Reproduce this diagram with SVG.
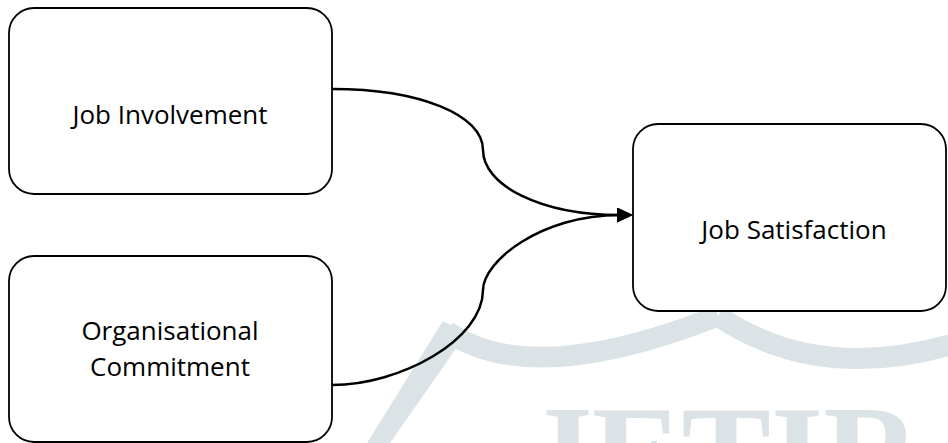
<svg xmlns="http://www.w3.org/2000/svg" width="948" height="443" viewBox="0 0 948 443">
  <style>
    .box { fill: #ffffff; stroke: #000000; stroke-width: 1.8; }
    .label { font-family: "Open Sans", "Noto Sans", "Liberation Sans", sans-serif; font-size: 26px; fill: #000000; text-anchor: middle; }
    .conn { fill: none; stroke: #000000; stroke-width: 2.5; }
    .wm { fill: none; stroke: #dce3e6; stroke-width: 21; }
    .wmfill { fill: #dce3e6; }
  </style>
  <defs>
    <marker id="arrow" markerUnits="userSpaceOnUse" markerWidth="16" markerHeight="15" refX="3" refY="7.5" orient="auto">
      <path d="M0,0 L16,7.5 L0,15 z" fill="#000000"/>
    </marker>
  </defs>

  <g id="watermark">
    <path class="wm" d="M447,331 Q530,390 718,316"/>
    <path class="wm" d="M718,316 Q820,385 960,342"/>
    <polygon class="wmfill" points="443,321 463,331 455,350 390,443 367,443"/>
    <text x="525" y="502" textLength="395" lengthAdjust="spacingAndGlyphs" font-family="'Liberation Serif', serif" font-weight="bold" font-size="140" fill="#dce3e6">JETIR</text>
  </g>

  <g id="node-job-involvement">
    <rect class="box" x="9" y="8" width="323" height="186" rx="25" ry="25"/>
    <text class="label" x="170" y="124">Job Involvement</text>
  </g>

  <g id="node-organisational-commitment">
    <rect class="box" x="9" y="256" width="323" height="186" rx="25" ry="25"/>
    <text class="label" x="170" y="340">Organisational</text>
    <text class="label" x="170" y="376">Commitment</text>
  </g>

  <g id="node-job-satisfaction">
    <rect class="box" x="633" y="124" width="313" height="187" rx="25" ry="25"/>
    <text class="label" x="794" y="239">Job Satisfaction</text>
  </g>

  <g id="connectors">
    <path class="conn" marker-end="url(#arrow)" d="M332,89 C420,89 483,115 483,150 C483,185 540,215 620,215"/>
    <path class="conn" marker-end="url(#arrow)" d="M332,385 C400,385 483,340 483,290 C483,262 540,215 620,215"/>
  </g>
</svg>
